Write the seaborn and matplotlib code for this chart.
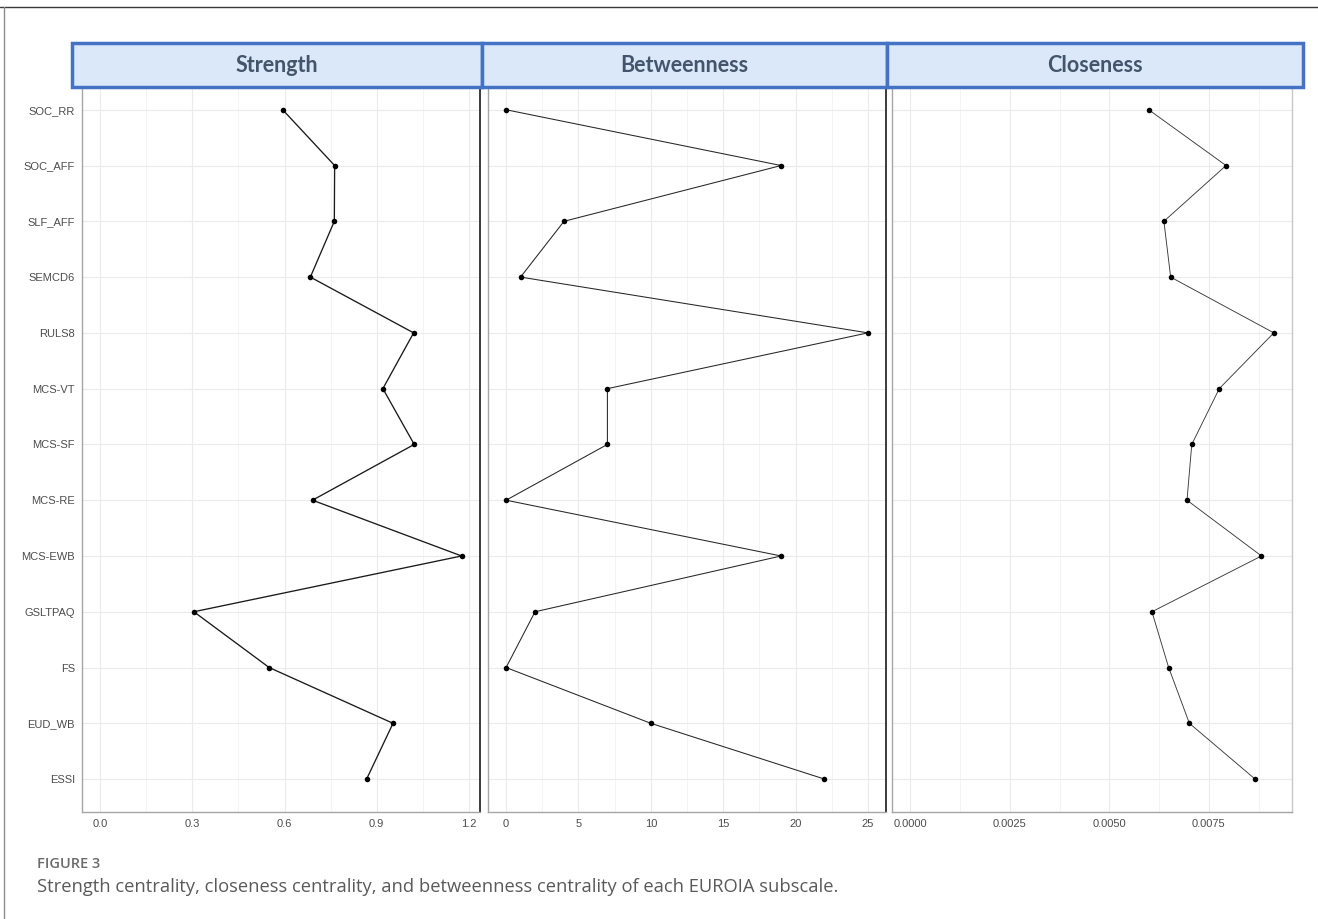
import numpy as np
import pandas as pd
import matplotlib
matplotlib.use("Agg")
import matplotlib.pyplot as plt
import seaborn as sns
from matplotlib.patches import Rectangle
from matplotlib.lines import Line2D

subscales = ["SOC_RR", "SOC_AFF", "SLF_AFF", "SEMCD6", "RULS8", "MCS-VT", "MCS-SF",
             "MCS-RE", "MCS-EWB", "GSLTPAQ", "FS", "EUD_WB", "ESSI"]
strength = [0.594, 0.763, 0.762, 0.684, 1.020, 0.920, 1.022, 0.691, 1.176, 0.305, 0.550, 0.953, 0.867]
betweenness = [0, 19, 4, 1, 25, 7, 7, 0, 19, 2, 0, 10, 22]
closeness = [0.00599, 0.00793, 0.00637, 0.00654, 0.00913, 0.00776, 0.00707,
             0.00695, 0.00882, 0.00607, 0.00649, 0.00701, 0.00866]

panel_names = ["Strength", "Betweenness", "Closeness"]
x_ticks = {
    "Strength": [0.0, 0.3, 0.6, 0.9, 1.2],
    "Betweenness": [0, 5, 10, 15, 20, 25],
    "Closeness": [0.0, 0.0025, 0.005, 0.0075],
}
x_ticklabels = {
    "Strength": ["0.0", "0.3", "0.6", "0.9", "1.2"],
    "Betweenness": ["0", "5", "10", "15", "20", "25"],
    "Closeness": ["0.0000", "0.0025", "0.0050", "0.0075"],
}

df = pd.DataFrame({
    "subscale": subscales * 3,
    "pos": list(range(len(subscales))) * 3,
    "measure": [m for m in panel_names for _ in subscales],
    "value": strength + betweenness + closeness,
})

W, H = 1318, 919
sns.set_style("white")
plt.rcParams["font.family"] = ["Liberation Sans Narrow", "Liberation Sans", "DejaVu Sans"]

fig = plt.figure(figsize=(W / 100, H / 100), dpi=100)

panel_px = [(82, 480), (488, 886), (892, 1292)]
strip_px = [(72, 482), (482, 887), (887, 1303)]
top_px, bot_px = 88, 812
line_w = {"Strength": 0.95, "Betweenness": 0.75, "Closeness": 0.65}
line_c = {"Strength": "#1a1a1a", "Betweenness": "#262626", "Closeness": "#3a3a3a"}

for i, name in enumerate(panel_names):
    l, r = panel_px[i]
    ax = fig.add_axes([l / W, (H - bot_px) / H, (r - l) / W, (bot_px - top_px) / H])
    sub = df[df["measure"] == name]
    sns.lineplot(data=sub, x="value", y="pos", sort=False, orient="y", estimator=None,
                 color=line_c[name], linewidth=line_w[name], ax=ax)
    sns.scatterplot(data=sub, x="value", y="pos", color="black", s=16, linewidth=0,
                    ax=ax, zorder=3)
    span = sub["value"].max()
    if name == "Betweenness":
        span = 25
    lo, hi = -0.05 * span, span * 1.05
    if name == "Strength":
        lo, hi = -0.059, 1.236
    ax.set_xlim(lo, hi)
    ax.set_ylim(12.59, -0.39)
    ticks = x_ticks[name]
    ax.set_xticks(ticks)
    ax.set_xticklabels(x_ticklabels[name])
    step = ticks[1] - ticks[0]
    minors = [t + step / 2 for t in [ticks[0] - step] + ticks if lo < t + step / 2 < hi]
    ax.set_xticks(minors, minor=True)
    ax.set_yticks(range(len(subscales)))
    if i == 0:
        ax.set_yticklabels(subscales)
    else:
        ax.set_yticklabels([])
    ax.set_xlabel("")
    ax.set_ylabel("")
    ax.grid(True, which="major", color="#ebebeb", linewidth=0.8)
    ax.grid(True, which="minor", axis="x", color="#f2f2f2", linewidth=0.6)
    ax.set_axisbelow(True)
    ax.tick_params(axis="both", which="major", labelsize=8, labelcolor="#4d4d4d",
                   color="#8c8c8c", length=3, width=0.8, pad=2)
    ax.tick_params(axis="x", which="minor", length=0)
    if i > 0:
        ax.tick_params(axis="y", length=0)
    for side in ["left", "bottom"]:
        ax.spines[side].set_color("#a6a6a6")
        ax.spines[side].set_linewidth(1.0)
    ax.spines["top"].set_visible(False)
    ax.spines["right"].set_color("#1a1a1a" if i < 2 else "#c8c8c8")
    ax.spines["right"].set_linewidth(1.2 if i < 2 else 1.0)

    # strip header
    sl, sr = strip_px[i]
    fig.patches.append(Rectangle((sl / W, (H - 87) / H), (sr - sl) / W, 44 / H,
                                 transform=fig.transFigure, facecolor="#dae8fa",
                                 edgecolor="#4472c4", linewidth=2.5, zorder=5))
    fig.text((sl + sr) / 2 / W, (H - 66) / H, name, ha="center", va="center",
             fontsize=15.5, fontweight="bold", color="#44546a",
             family=["Lato", "DejaVu Sans"], zorder=6)

fig.text(37 / W, (H - 864) / H, "FIGURE 3", ha="left", va="center", fontsize=10.5,
         color="#6b6b6b", family=["Open Sans", "DejaVu Sans"], fontweight="semibold")
fig.text(37 / W, (H - 887) / H,
         "Strength centrality, closeness centrality, and betweenness centrality of each EUROIA subscale.",
         ha="left", va="center", fontsize=13.2, color="#5a5a5a",
         family=["Open Sans", "DejaVu Sans"])

# page frame: top and left edges only
fig.add_artist(Line2D([0, 1], [(H - 7) / H, (H - 7) / H], transform=fig.transFigure,
                      color="#3a3a3a", linewidth=1.0))
fig.add_artist(Line2D([4 / W, 4 / W], [0, (H - 7) / H], transform=fig.transFigure,
                      color="#8c8c8c", linewidth=1.0))

fig.savefig("out.png", dpi=100)
